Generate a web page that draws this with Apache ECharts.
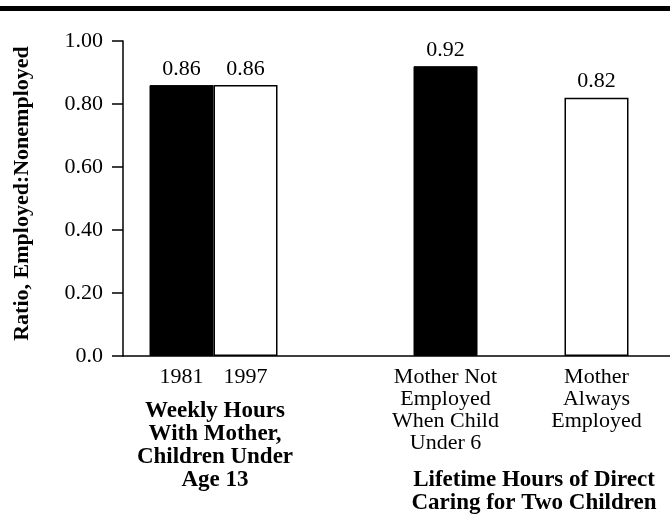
<!DOCTYPE html>
<html>
<head>
<meta charset="utf-8">
<script src="https://cdn.jsdelivr.net/npm/echarts@6/dist/echarts.min.js"></script>
<style>html,body{margin:0;padding:0;background:#fff}#c{width:670px;height:519px}</style>
</head>
<body>
<div id="c"></div>
<script>
// ---- data ----
const categories = ['1981', '1997', 'Mother Not\nEmployed\nWhen Child\nUnder 6', 'Mother\nAlways\nEmployed'];
const ratioValues = [0.86, 0.86, 0.92, 0.82];
const darkCategories = ['1981', 'Mother Not\nEmployed\nWhen Child\nUnder 6'];
const groupTitles = ['Weekly Hours\nWith Mother,\nChildren Under\nAge 13', 'Lifetime Hours of Direct\nCaring for Two Children'];
const yTicks = [0, 0.2, 0.4, 0.6, 0.8, 1.0];
const yTitle = 'Ratio, Employed:Nonemployed';

// ---- layout (axis units along the horizontal axis) ----
const xPos = [58.5, 122.5, 322.5, 473.5];
const groupPos = [92, 411];
const XMAX = 547;
const SERIF = '"Liberation Serif", "Times New Roman", serif';

const darkData = [], lightData = [];
categories.forEach((c, i) => {
  const pt = [xPos[i], ratioValues[i]];
  if (darkCategories.includes(c)) darkData.push(pt); else lightData.push(pt);
});
const labelOf = v => { const i = xPos.indexOf(v); return i >= 0 ? categories[i] : ''; };
const groupOf = v => { const i = groupPos.indexOf(v); return i >= 0 ? groupTitles[i] : ''; };

const chart = echarts.init(document.getElementById('c'));
const baseX = {type: 'value', min: 0, max: XMAX, splitLine: {show: false}, axisTick: {show: false}};
chart.setOption({
  animation: false,
  backgroundColor: '#fff',
  grid: {left: 123, right: 0, top: 41, bottom: 163, containLabel: false},
  xAxis: [
    Object.assign({}, baseX, {
      position: 'bottom',
      axisLine: {show: true, onZero: false, lineStyle: {color: '#000', width: 1.5}},
      axisLabel: {customValues: xPos, formatter: labelOf, margin: 10,
        fontFamily: SERIF, fontSize: 22, color: '#000', lineHeight: 22}
    }),
    Object.assign({}, baseX, {
      position: 'bottom',
      axisLine: {show: false},
      axisLabel: {customValues: [groupPos[0]], formatter: groupOf, margin: 44,
        fontFamily: SERIF, fontSize: 23, fontWeight: 'bold', color: '#000', lineHeight: 23}
    }),
    Object.assign({}, baseX, {
      position: 'bottom',
      axisLine: {show: false},
      axisLabel: {customValues: [groupPos[1]], formatter: groupOf, margin: 113,
        fontFamily: SERIF, fontSize: 23, fontWeight: 'bold', color: '#000', lineHeight: 23}
    })
  ],
  yAxis: {
    type: 'value', min: 0, max: 1, interval: 0.2,
    name: yTitle, nameLocation: 'middle', nameRotate: 90, nameGap: 90,
    nameTextStyle: {fontFamily: SERIF, fontSize: 22, fontWeight: 'bold', color: '#000', padding: [0, 0, 0, 10]},
    axisLine: {show: true, lineStyle: {color: '#000', width: 1.5}},
    axisTick: {show: true, inside: false, length: 11, lineStyle: {color: '#000', width: 1.5}},
    splitLine: {show: false},
    axisLabel: {margin: 20, fontFamily: SERIF, fontSize: 22, color: '#000',
      formatter: v => v === 0 ? '0.0' : v.toFixed(2)}
  },
  series: [
    {type: 'bar', name: 'dark', data: darkData, barWidth: 64, barGap: '-100%',
      itemStyle: {color: '#000', borderColor: '#000', borderWidth: 1},
      label: {show: true, position: 'top', distance: 5, fontFamily: SERIF, fontSize: 22, color: '#000',
        formatter: p => p.value[1].toFixed(2)}},
    {type: 'bar', name: 'light', data: lightData, barWidth: 64, barGap: '-100%',
      itemStyle: {color: '#fff', borderColor: '#000', borderWidth: 1.5},
      label: {show: true, position: 'top', distance: 5, fontFamily: SERIF, fontSize: 22, color: '#000',
        formatter: p => p.value[1].toFixed(2)}}
  ],
  graphic: [
    {type: 'rect', left: 0, top: 6, shape: {width: 670, height: 5}, style: {fill: '#000'}}
  ]
});
</script>
</body>
</html>
